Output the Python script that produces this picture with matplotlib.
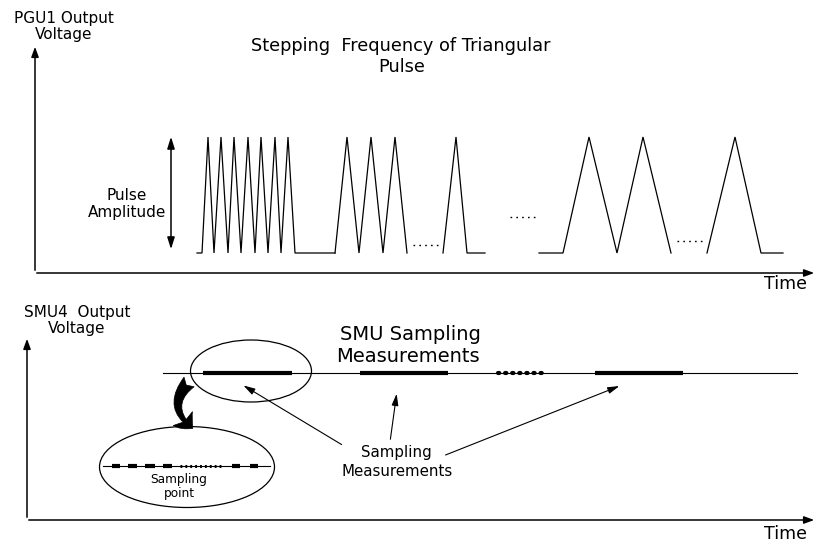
import matplotlib.pyplot as plt
from matplotlib.patches import Ellipse, FancyArrowPatch

# PGU1 triangular pulse train (time in px-units, level 0 = base, 1 = peak)
burst1_t = [197, 202, 208, 214, 221, 228, 234, 241, 248, 255, 261, 268, 275, 281, 288, 295, 335]
burst1_v = [0, 0, 1, 0, 1, 0, 1, 0, 1, 0, 1, 0, 1, 0, 1, 0, 0]
burst2_t = [335, 347, 359, 371, 383, 395, 407]
burst2_v = [0, 1, 0, 1, 0, 1, 0]
burst3_t = [443, 456, 467, 485]
burst3_v = [0, 1, 0, 0]
burst4_t = [539, 563, 589, 617, 643, 671]
burst4_v = [0, 0, 1, 0, 1, 0]
burst5_t = [707, 735, 761, 783]
burst5_v = [0, 1, 0, 0]
gap_dots = [(413, 438, 0.07), (510, 535, 0.31), (677, 703, 0.10)]

# SMU sampling windows on the measurement line
windows = [(203, 292), (360, 448), (595, 683)]
dotted_window = (498, 546)
# zoomed sampling points inside the small ellipse
zoom_dashes = [(112, 120), (128, 137), (145, 155), (163, 172), (232, 240), (250, 258)]
zoom_dots = (180, 221)

base_y, peak_y = 253, 137

fig = plt.figure(figsize=(8.17, 5.42), dpi=100)
ax = fig.add_axes([0, 0, 1, 1])
ax.set_xlim(0, 817)
ax.set_ylim(542, 0)
ax.axis("off")

font = "DejaVu Sans"
arrow_kw = dict(arrowstyle="-|>,head_length=0.6,head_width=0.22", color="black", lw=1.1)


def level(v):
    return [base_y - x * (base_y - peak_y) for x in v]


# ---- top panel ----
ax.annotate("", xy=(35, 44), xytext=(35, 273), arrowprops=arrow_kw)
ax.annotate("", xy=(817, 273), xytext=(34, 273), arrowprops=arrow_kw)
ax.text(64, 18, "PGU1 Output", ha="center", va="center", fontsize=11, family=font)
ax.text(64, 34, "Voltage", ha="center", va="center", fontsize=11, family=font)
ax.text(786, 284, "Time", ha="center", va="center", fontsize=12.5, family=font)
ax.text(401, 46, "Stepping  Frequency of Triangular", ha="center", va="center", fontsize=12.8, family=font)
ax.text(402, 67, "Pulse", ha="center", va="center", fontsize=12.8, family=font)

ax.annotate("", xy=(171, 134), xytext=(171, 252),
            arrowprops=dict(arrowstyle="<|-|>,head_length=0.7,head_width=0.22", color="black", lw=1.1))
ax.text(127, 195, "Pulse", ha="center", va="center", fontsize=11, family=font)
ax.text(127, 212, "Amplitude", ha="center", va="center", fontsize=11, family=font)

for t, v in [(burst1_t, burst1_v), (burst2_t, burst2_v), (burst3_t, burst3_v),
             (burst4_t, burst4_v), (burst5_t, burst5_v)]:
    ax.plot(t, level(v), color="black", lw=0.9, solid_joinstyle="miter")

for x0, x1, v in gap_dots:
    y = base_y - v * (base_y - peak_y)
    ax.plot([x0, x1], [y, y], color="black", lw=1.0, linestyle=(0, (1.2, 3)))

# ---- bottom panel ----
ax.annotate("", xy=(27, 336), xytext=(27, 520), arrowprops=arrow_kw)
ax.annotate("", xy=(817, 520), xytext=(26, 520), arrowprops=arrow_kw)
ax.text(77, 312, "SMU4  Output", ha="center", va="center", fontsize=11, family=font)
ax.text(77, 328, "Voltage", ha="center", va="center", fontsize=11, family=font)
ax.text(786, 534, "Time", ha="center", va="center", fontsize=12.5, family=font)
ax.text(410, 334, "SMU Sampling", ha="center", va="center", fontsize=14, family=font)
ax.text(408, 357, "Measurements", ha="center", va="center", fontsize=14, family=font)

line_y = 373
ax.plot([163, 797], [line_y, line_y], color="black", lw=0.8)
for x0, x1 in windows:
    ax.plot([x0, x1], [line_y, line_y], color="black", lw=3.0, solid_capstyle="butt")
ax.plot(list(dotted_window), [line_y, line_y], color="black", lw=3.0,
        linestyle=(0, (0.3, 1.4)), dash_capstyle="round")

ax.add_patch(Ellipse((251, 371), 121, 62, fill=False, lw=0.9, color="black"))
ax.add_patch(Ellipse((187, 467), 175, 81, fill=False, lw=0.9, color="black"))

zy = 466
ax.plot([103, 270], [zy, zy], color="black", lw=0.8)
for x0, x1 in zoom_dashes:
    ax.plot([x0, x1], [zy, zy], color="black", lw=3.0, solid_capstyle="butt")
ax.plot(list(zoom_dots), [zy, zy], color="black", lw=2.2, linestyle=(0, (0.6, 1.0)), dash_capstyle="butt")
ax.text(179, 480, "Sampling", ha="center", va="center", fontsize=8.7, family=font)
ax.text(179, 494, "point", ha="center", va="center", fontsize=8.7, family=font)

ax.add_patch(FancyArrowPatch((191, 380), (195, 430), connectionstyle="arc3,rad=0.6",
                             arrowstyle="fancy,head_length=10,head_width=17,tail_width=10",
                             color="black", lw=0.5, mutation_scale=1))

ax.text(396, 453, "Sampling", ha="center", va="center", fontsize=10.8, family=font)
ax.text(397, 472, "Measurements", ha="center", va="center", fontsize=10.8, family=font)
la = dict(arrowstyle="-|>,head_length=0.7,head_width=0.2", color="black", lw=0.8)
ax.annotate("", xy=(241, 384), xytext=(344, 446), arrowprops=la)
ax.annotate("", xy=(397, 391), xytext=(390, 442), arrowprops=la)
ax.annotate("", xy=(622, 385), xytext=(443, 456), arrowprops=la)

fig.savefig("out.png", dpi=100)
